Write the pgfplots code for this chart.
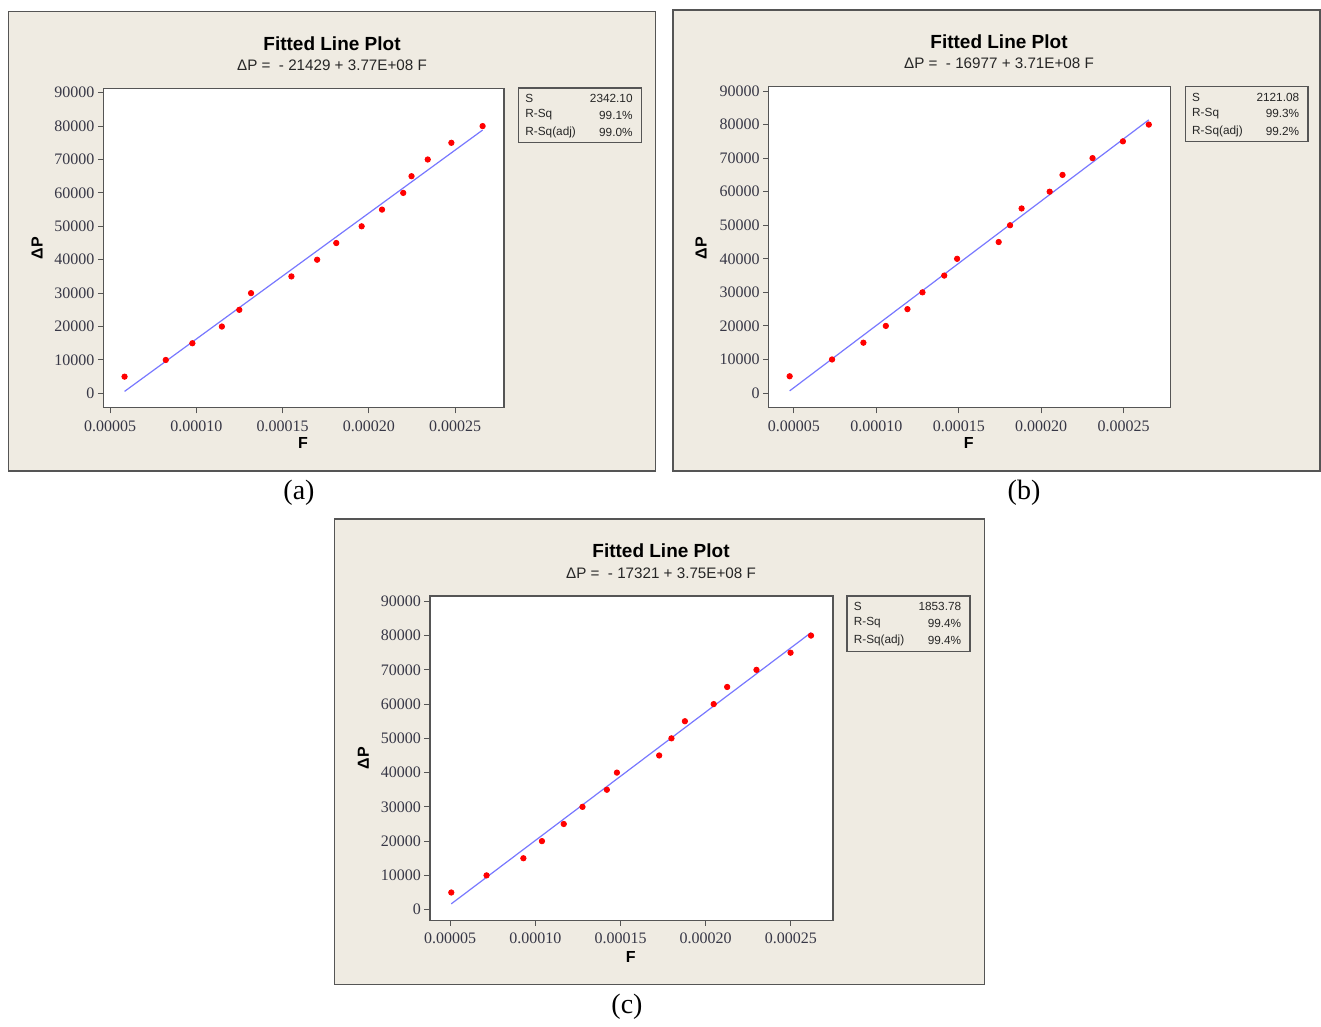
\documentclass[border=0pt]{standalone}
\usepackage{fontspec}
\setmainfont{Liberation Serif}
\newfontfamily\tah{Liberation Sans}
\usepackage{pgfplots}
\pgfplotsset{compat=1.18}
\definecolor{panelbg}{RGB}{239,235,226}
\definecolor{framec}{RGB}{85,85,85}
\definecolor{fitline}{RGB}{120,120,255}
\definecolor{tickc}{RGB}{55,55,70}
\pgfplotsset{fitstyle/.style={
  scale only axis, anchor=north west,
  axis background/.style={fill=white},
  axis line style={draw=framec, line width=0.7pt},
  tick pos=left, tick align=outside, major tick length=2.8pt,
  every tick/.style={draw=framec, line width=0.5pt},
  ticklabel style={font=\fontsize{8}{9}\selectfont, text=tickc},
  /pgf/number format/assume math mode=true,
  scaled ticks=false,
  xtick={0.00005,0.0001,0.00015,0.0002,0.00025},
  xticklabels={0.00005,0.00010,0.00015,0.00020,0.00025},
  ytick={0,10000,20000,30000,40000,50000,60000,70000,80000,90000},
  yticklabels={0,10000,20000,30000,40000,50000,60000,70000,80000,90000},
  yticklabel style={xshift=1.8pt},
}}
\tikzset{
  pttl/.style={font=\tah\bfseries\fontsize{9.5}{11}\selectfont, text=black},
  psub/.style={font=\tah\fontsize{7.6}{9}\selectfont, text=black!85},
  plab/.style={font=\tah\bfseries\fontsize{8}{9}\selectfont},
  pleg/.style={font=\tah\fontsize{5.9}{7}\selectfont, text=black!85, inner sep=0pt},
  pcap/.style={font=\fontsize{14}{16}\selectfont},
}
\begin{document}
\begin{tikzpicture}
\path (0,0) rectangle (660.5pt,510.5pt);
% panel frames
\filldraw[fill=panelbg, draw=framec, line width=0.8pt] (4.25pt,504.75pt) rectangle (327.75pt,275pt);
\filldraw[fill=panelbg, draw=framec, line width=0.8pt] (336.5pt,505.5pt) rectangle (660.1pt,275pt);
\filldraw[fill=panelbg, draw=framec, line width=0.8pt] (167.25pt,251pt) rectangle (492.25pt,18.25pt);

% ---------- (a)
\begin{axis}[fitstyle, at={(51.75pt,466.15pt)}, width=200.25pt, height=159.5pt,
  xmin=0.0000462, xmax=0.0002783, ymin=-4291, ymax=91198]
\addplot[fitline, line width=0.6pt] coordinates {(0.0000584,588) (0.0002659,78815)};
\addplot[only marks, mark=*, mark size=1.35pt, color=red] coordinates {
(0.0000584,5000) (0.0000823,10000) (0.0000977,15000) (0.0001148,20000)
(0.0001249,25000) (0.0001317,30000) (0.0001551,35000) (0.0001700,40000)
(0.0001811,45000) (0.0001958,50000) (0.0002076,55000) (0.0002199,60000)
(0.0002247,65000) (0.0002341,70000) (0.0002478,75000) (0.0002659,80000)};
\end{axis}
\node[pttl] at (166pt,488.85pt) {Fitted Line Plot};
\node[psub] at (166pt,478pt) {ΔP =~~- 21429 + 3.77E+08 F};
\node[plab, rotate=90] at (18.5pt,386.5pt) {ΔP};
\node[plab] at (151.5pt,289pt) {F};
\draw[framec, line width=0.6pt] (259.3pt,466.5pt) rectangle (320.65pt,439.15pt);
\node[pleg, anchor=west] at (262.5pt,461.35pt) {S};
\node[pleg, anchor=west] at (262.5pt,453pt) {R-Sq};
\node[pleg, anchor=west] at (262.5pt,444.15pt) {R-Sq(adj)};
\node[pleg, anchor=east] at (316.5pt,461.35pt) {2342.10};
\node[pleg, anchor=east] at (316.5pt,453pt) {99.1\%};
\node[pleg, anchor=east] at (316.5pt,444.15pt) {99.0\%};
\node[pcap] at (149.5pt,264pt) {(a)};

% ---------- (b)
\begin{axis}[fitstyle, at={(384.35pt,467.15pt)}, width=200.85pt, height=160.5pt,
  xmin=0.0000348, xmax=0.0002783, ymin=-4369, ymax=91291]
\addplot[fitline, line width=0.6pt] coordinates {(0.0000475,646) (0.0002652,81412)};
\addplot[only marks, mark=*, mark size=1.35pt, color=red] coordinates {
(0.0000475,5000) (0.0000732,10000) (0.0000922,15000) (0.0001058,20000)
(0.0001189,25000) (0.0001280,30000) (0.0001412,35000) (0.0001490,40000)
(0.0001742,45000) (0.0001811,50000) (0.0001881,55000) (0.0002051,60000)
(0.0002129,65000) (0.0002311,70000) (0.0002495,75000) (0.0002652,80000)};
\end{axis}
\node[pttl] at (499.5pt,489.85pt) {Fitted Line Plot};
\node[psub] at (499.5pt,479pt) {ΔP =~~- 16977 + 3.71E+08 F};
\node[plab, rotate=90] at (350.5pt,386.5pt) {ΔP};
\node[plab] at (484.35pt,289pt) {F};
\draw[framec, line width=0.6pt] (592.7pt,467.15pt) rectangle (653.95pt,439.85pt);
\node[pleg, anchor=west] at (595.9pt,462pt) {S};
\node[pleg, anchor=west] at (595.9pt,453.65pt) {R-Sq};
\node[pleg, anchor=west] at (595.9pt,444.8pt) {R-Sq(adj)};
\node[pleg, anchor=east] at (649.8pt,462pt) {2121.08};
\node[pleg, anchor=east] at (649.8pt,453.65pt) {99.3\%};
\node[pleg, anchor=east] at (649.8pt,444.8pt) {99.2\%};
\node[pcap] at (512pt,264pt) {(b)};

% ---------- (c)
\begin{axis}[fitstyle, at={(215pt,212.5pt)}, width=201.4pt, height=162.15pt,
  xmin=0.0000382, xmax=0.0002746, ymin=-3113, ymax=91556]
\addplot[fitline, line width=0.6pt] coordinates {(0.0000507,1692) (0.0002618,80854)};
\addplot[only marks, mark=*, mark size=1.35pt, color=red] coordinates {
(0.0000507,5000) (0.0000714,10000) (0.0000930,15000) (0.0001039,20000)
(0.0001167,25000) (0.0001277,30000) (0.0001420,35000) (0.0001479,40000)
(0.0001727,45000) (0.0001799,50000) (0.0001878,55000) (0.0002047,60000)
(0.0002126,65000) (0.0002298,70000) (0.0002498,75000) (0.0002618,80000)};
\end{axis}
\node[pttl] at (330.5pt,235pt) {Fitted Line Plot};
\node[psub] at (330.5pt,223.85pt) {ΔP =~~- 17321 + 3.75E+08 F};
\node[plab, rotate=90] at (181.7pt,131.5pt) {ΔP};
\node[plab] at (315.4pt,32.15pt) {F};
\draw[framec, line width=0.6pt] (423.5pt,212.5pt) rectangle (485pt,184.65pt);
\node[pleg, anchor=west] at (426.7pt,207.35pt) {S};
\node[pleg, anchor=west] at (426.7pt,199pt) {R-Sq};
\node[pleg, anchor=west] at (426.7pt,190.15pt) {R-Sq(adj)};
\node[pleg, anchor=east] at (480.8pt,207.35pt) {1853.78};
\node[pleg, anchor=east] at (480.8pt,199pt) {99.4\%};
\node[pleg, anchor=east] at (480.8pt,190.15pt) {99.4\%};
\node[pcap] at (313.5pt,7pt) {(c)};
\end{tikzpicture}
\end{document}
